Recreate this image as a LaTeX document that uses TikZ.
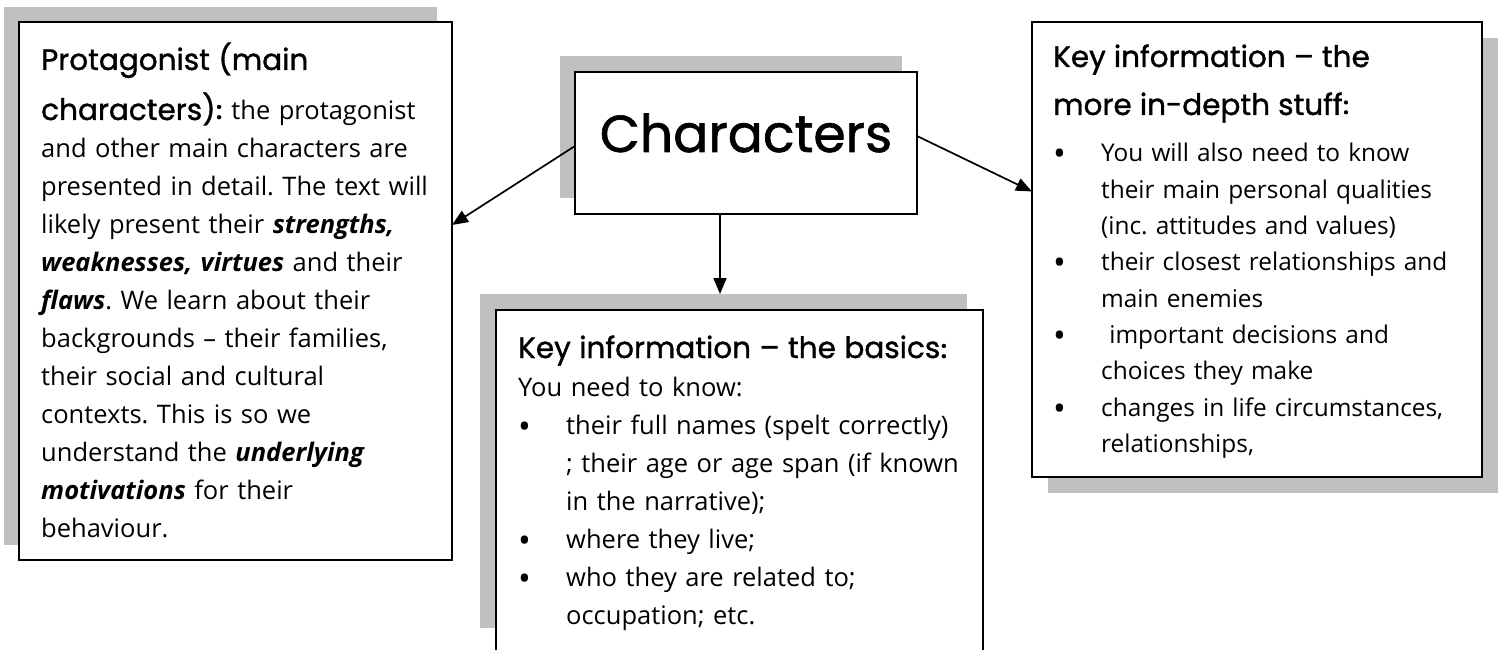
\documentclass[tikz,border=0pt]{standalone}
\usepackage{fontspec}
\setmainfont{Open Sans}
\newfontfamily\headfont{Poppins}[FakeBold=1.2]
\usetikzlibrary{arrows.meta,positioning}

\newlength{\du}
\setlength{\du}{1pt}
\newcommand{\bitem}{\makebox[48\du][l]{\raisebox{-4\du}{\fontsize{34}{38}\selectfont\textbullet}}}
\newcommand{\bcont}{\hspace*{48\du}}
\newcommand{\hd}[1]{{\headfont\fontsize{29.5}{38}\selectfont #1}}
\newcommand{\bi}[1]{\textbf{\textit{#1}}}
\frenchspacing

\begin{document}
\begin{tikzpicture}[
  box/.style={draw=black, line width=1.8\du, fill=white, inner sep=0pt, outer sep=0pt, anchor=north west},
  shade/.style={fill=shadowgray, draw=none, inner sep=0pt, outer sep=0pt, anchor=north west},
  txt/.style={inner sep=0pt, anchor=base west, align=left, text width=#1, font=\fontsize{25.5}{38}\selectfont},
  link/.style={line width=1.7\du, -{Triangle[length=16pt,width=13pt]}}
]
\definecolor{shadowgray}{RGB}{192,192,192}
\useasboundingbox (0\du,0\du) rectangle (1502\du,-650\du);
\fill[white] (0\du,0\du) rectangle (1502\du,-650\du);
\clip (0\du,0\du) rectangle (1502\du,-650\du);

% shadows
\node[shade, minimum width=433\du, minimum height=538\du] (protag-sh) at (4\du,-7\du) {};
\node[shade, minimum width=342\du, minimum height=142\du] (chars-sh) at (560\du,-56\du) {};
\node[shade, minimum width=487\du, minimum height=334\du] (basics-sh) at (480\du,-294\du) {};
\node[shade, minimum width=450\du, minimum height=455\du] (depth-sh) at (1048\du,-38\du) {};

% boxes
\node[box, minimum width=433\du, minimum height=538\du] (protag) at (19\du,-22\du) {};
\node[box, minimum width=342\du, minimum height=142\du] (chars) at (575\du,-72\du) {};
\node[box, minimum width=487\du, minimum height=370\du] (basics) at (496\du,-310\du) {};
\node[box, minimum width=450\du, minimum height=455\du] (depth) at (1032\du,-22\du) {};

% texts
\node[inner sep=0pt, anchor=base, font=\headfont\fontsize{52}{60}\selectfont] (chars-txt)
  at ([yshift=-80\du]chars.north) {Characters};

\node[txt=420\du] (protag-txt) at ([shift={(22\du,-48\du)}]protag.north west) {%
\hd{Protagonist (main}\\[12\du]
\hd{characters)}\textbf{:} the protagonist\\
and other main characters are\\
presented in detail. The text will\\
likely present their \bi{strengths,}\\
\bi{weaknesses, virtues} and their\\
\bi{flaws}. We learn about their\\
backgrounds – their families,\\
their social and cultural\\
contexts. This is so we\\
understand the \bi{underlying}\\
\bi{motivations} for their\\
behaviour.};

\node[txt=470\du] (basics-txt) at ([shift={(22\du,-48\du)}]basics.north west) {%
\hd{Key information – the basics}\textbf{:}\\
You need to know:\\
\bitem their full names (spelt correctly)\\
\bcont ; their age or age span (if known\\
\bcont in the narrative);\\
\bitem where they live;\\
\bitem who they are related to;\\
\bcont occupation; etc.};

% this one is shrunk a bit
\node[txt=440\du, font=\fontsize{24.4}{36.3}\selectfont] (depth-txt)
  at ([shift={(21\du,-45\du)}]depth.north west) {%
\hd{Key information – the}\\[11.7\du]
\hd{more in-depth stuff}\textbf{:}\\[10.7\du]
\bitem You will also need to know\\
\bcont their main personal qualities\\
\bcont (inc. attitudes and values)\\
\bitem their closest relationships and\\
\bcont main enemies\\
\bitem \ important decisions and\\
\bcont choices they make\\
\bitem changes in life circumstances,\\
\bcont relationships,};

% arrows
\draw[link] ([yshift=-3\du]chars.west) -- ([yshift=66\du]protag.east);
\draw[link] ([yshift=7\du]chars.east) -- ([yshift=58\du]depth.west);
\draw[link] ([xshift=-26\du]chars.south) -- ([xshift=-26\du]chars.south |- basics-sh.north);
\end{tikzpicture}
\end{document}
